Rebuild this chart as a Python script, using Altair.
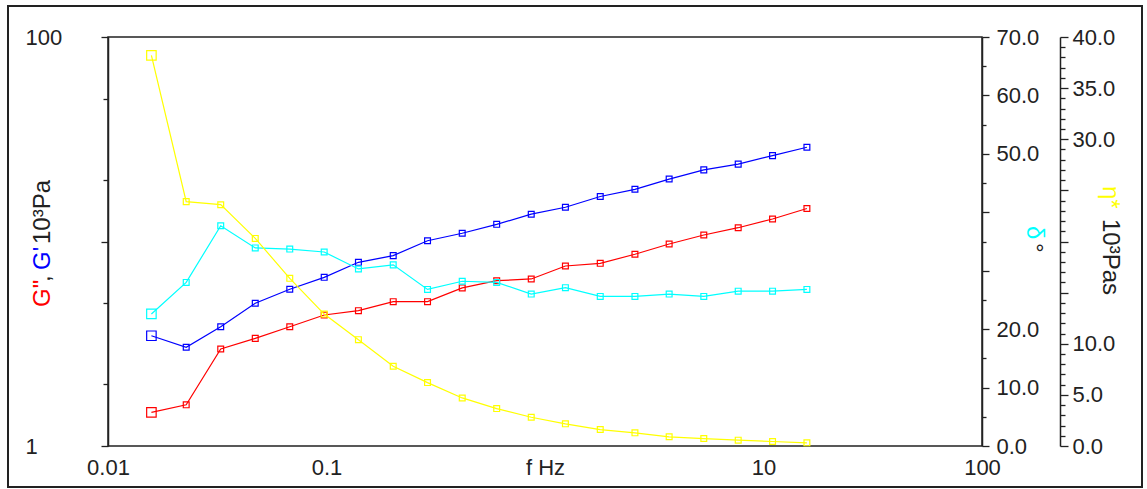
import altair as alt
import pandas as pd

# ---- data ----
freq = [0.0158, 0.0228, 0.0328, 0.0472, 0.0679, 0.0976, 0.140, 0.202, 0.290, 0.418,
        0.601, 0.865, 1.24, 1.79, 2.58, 3.70, 5.33, 7.66, 11.0, 15.8]
g_loss = [1.46, 1.59, 2.98, 3.36, 3.83, 4.37, 4.59, 5.08, 5.08, 5.93,
          6.43, 6.56, 7.59, 7.82, 8.66, 9.72, 10.76, 11.68, 12.88, 14.5]
g_store = [3.46, 3.04, 3.83, 4.99, 5.84, 6.68, 7.91, 8.53, 10.09, 10.97,
           12.13, 13.6, 14.7, 16.6, 18.0, 20.2, 22.4, 23.9, 26.3, 28.9]
delta = [22.6, 28.0, 37.7, 33.9, 33.7, 33.2, 30.3, 31.0, 26.8, 28.2,
         28.0, 26.0, 27.1, 25.6, 25.6, 26.0, 25.6, 26.5, 26.5, 26.8]
eta = [38.2, 23.9, 23.6, 20.3, 16.4, 12.9, 10.4, 7.8, 6.2, 4.7,
       3.66, 2.81, 2.17, 1.61, 1.29, 0.90, 0.73, 0.57, 0.44, 0.31]

x_ticks = [0.01, 0.1, 1, 10, 100]
x_labels = ["0.01", "0.1", "f Hz", "10", "100"]
g_ticks = [1, 2, 5, 10, 20, 50, 100]
g_labeled = [1, 100]
delta_ticks = [0, 5, 10, 15, 20, 25, 30, 35, 40, 45, 50, 55, 60, 65, 70]
delta_labeled = [0, 10, 20, 50, 60, 70]
eta_ticks = list(range(0, 41))
eta_labeled = [0, 5, 10, 30, 35, 40]

FONT = "Liberation Sans, Arial, sans-serif"
FS = 22
TFS = 24
RED, BLUE, CYAN, YELLOW = "#ff0000", "#0000ff", "#00ffff", "#ffff00"

df = pd.DataFrame({"i": list(range(len(freq))), "f": freq, "Gpp": g_loss,
                   "Gp": g_store, "delta": delta, "eta": eta})

x_expr = " : ".join(
    [f"datum.value == {v} ? '{l}'" for v, l in zip(x_ticks, x_labels)]) + " : ''"
X = alt.X("f:Q", scale=alt.Scale(type="log", domain=[0.01, 100]),
          axis=alt.Axis(values=x_ticks, labelExpr=x_expr, ticks=False, domain=False,
                        grid=False, title=None, labelFont=FONT, labelFontSize=FS,
                        labelPadding=11, labelColor="#222", labelFlush=False))

def shown(vals):
    return " || ".join([f"datum.value == {v}" for v in vals])

size_cond = alt.condition("datum.i == 0", alt.value(90), alt.value(34))

# --- G', G'' on log axis ---
baseG = alt.Chart(df).transform_fold(["Gpp", "Gp"], as_=["series", "G"])
yG = alt.Y("G:Q", scale=alt.Scale(type="log", domain=[1, 100]),
           axis=alt.Axis(orient="left", values=g_ticks,
                         labelExpr=f"({shown(g_labeled)}) ? datum.label : ''",
                         tickSize={"condition": {"test": "datum.value == 1 || datum.value == 10 || datum.value == 100", "value": 7}, "value": 5},
                         labelAlign="left", labelPadding=76, labelBaseline="middle",
                         labelFont=FONT, labelFontSize=FS, labelColor="#222",
                         domainColor="#222", tickColor="#222", domainWidth=1.5,
                         tickWidth=1.3, grid=False, title=None, labelFlush=False))
colG = alt.Color("series:N", scale=alt.Scale(domain=["Gpp", "Gp"], range=[RED, BLUE]),
                 legend=None)
lineG = baseG.mark_line(strokeWidth=1.2).encode(x=X, y=yG, color=colG)
ptG = baseG.mark_point(shape="square", filled=False, strokeWidth=1.2, opacity=1).encode(
    x=X, y=yG, color=colG, size=size_cond)
layerG = alt.layer(lineG, ptG)

# --- delta ---
yD = alt.Y("delta:Q", scale=alt.Scale(domain=[0, 70], nice=False, zero=True),
           axis=alt.Axis(orient="right", values=delta_ticks,
                         labelExpr=f"({shown(delta_labeled)}) ? format(datum.value, '.1f') : ''",
                         tickSize={"condition": {"test": "datum.value % 10 == 0", "value": 7}, "value": 4},
                         labelPadding=7, labelBaseline="middle",
                         labelFont=FONT, labelFontSize=FS, labelColor="#222",
                         domainColor="#222", tickColor="#222", domainWidth=1.5,
                         tickWidth=1.3, grid=False, title=None, labelFlush=False))
baseD = alt.Chart(df)
layerD = alt.layer(
    baseD.mark_line(strokeWidth=1.2, color=CYAN).encode(x=X, y=yD),
    baseD.mark_point(shape="square", filled=False, strokeWidth=1.2, opacity=1,
                     color=CYAN).encode(x=X, y=yD, size=size_cond),
)

# --- eta ---
yE = alt.Y("eta:Q", scale=alt.Scale(domain=[0, 40], nice=False, zero=True),
           axis=alt.Axis(orient="right", offset=78, values=eta_ticks,
                         labelExpr=f"({shown(eta_labeled)}) ? format(datum.value, '.1f') : ''",
                         tickSize={"condition": {"test": "datum.value % 5 == 0", "value": 8}, "value": 5},
                         labelPadding=4, labelBaseline="middle",
                         labelFont=FONT, labelFontSize=FS, labelColor="#222",
                         domainColor="#222", tickColor="#222", domainWidth=1.5,
                         tickWidth=1.3, grid=False, title=None, labelFlush=False))
baseE = alt.Chart(df)
layerE = alt.layer(
    baseE.mark_line(strokeWidth=1.2, color=YELLOW).encode(x=X, y=yE),
    baseE.mark_point(shape="square", filled=False, strokeWidth=1.2, opacity=1,
                     color=YELLOW).encode(x=X, y=yE, size=size_cond),
)

# --- titles & frame ---
one = pd.DataFrame({"k": [0]})

def label(txt, color, x, y, angle):
    return alt.Chart(one).mark_text(angle=angle, align="left", baseline="alphabetic",
                                    font=FONT, fontSize=TFS, color=color).encode(
        x=alt.value(x), y=alt.value(y), text=alt.value(txt))

titles = [
    label('G"', RED, -58, 270, 270),
    label(",", "#222", -58, 245, 270),
    label("G'", BLUE, -58, 233, 270),
    label("10³Pa", "#222", -58, 207, 270),
    label("δ", CYAN, 919, 189, 90),
    label("°", "#222", 919, 206, 90),
    label("η*", YELLOW, 995, 149, 90),
    label("10³Pas", "#222", 995, 182, 90),
]

frame = alt.Chart(one).mark_rect(fill=None, stroke="#222", strokeWidth=2).encode(
    x=alt.value(-100), x2=alt.value(1034), y=alt.value(-31), y2=alt.value(450))

chart = alt.layer(layerG, layerD, layerE, frame, *titles).resolve_scale(
    y="independent").properties(
    width=874, height=409,
    autosize=alt.AutoSizeParams(type="none"),
    padding={"left": 108, "top": 37, "right": 165, "bottom": 43},
    background="white",
).configure_view(stroke="#222", strokeWidth=1.5)

chart.save("out.html", embed_options={"renderer": "svg", "actions": False})
